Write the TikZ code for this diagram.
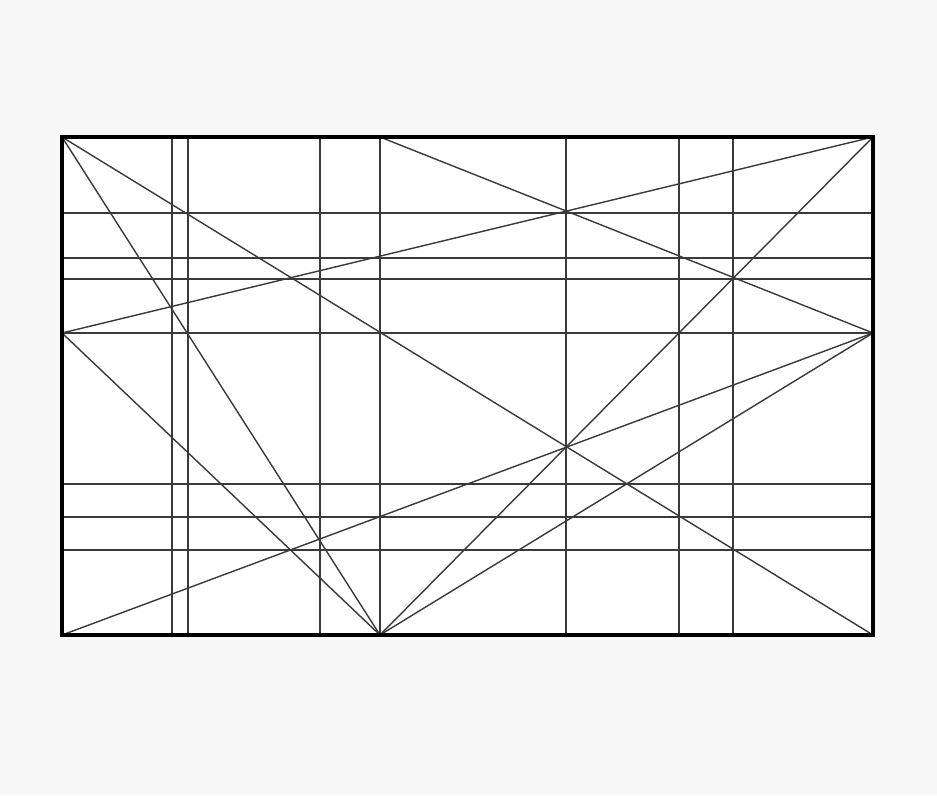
\documentclass[tikz,border=0pt]{standalone}
\definecolor{paper}{HTML}{F7F7F7}
\definecolor{guide}{HTML}{3A3A3A}
\begin{document}
\begin{tikzpicture}[x=0.02cm,y=-0.02cm]
    % Page and frame:
    \fill[paper] (0,0) rectangle (937,795);
    \useasboundingbox (0,0) rectangle (937,795);
    \fill[white] (62,137) rectangle (873,635);

    % Points on the frame the diagonals run between:
    \coordinate (tl) at (62,137);
    \coordinate (tr) at (873,137);
    \coordinate (bl) at (62,635);
    \coordinate (br) at (873,635);
    \coordinate (lm) at (62,333);
    \coordinate (rm) at (873,333);
    \coordinate (tm) at (380,137);
    \coordinate (bm) at (380,635);

    \begin{scope}[line width=0.8pt,draw=guide]
    % Vertical guides:
    \foreach \x in {172,188,320,380,566,679,733}
        \draw (\x,137) -- (\x,635);
    % Horizontal guides:
    \foreach \y in {213,258,279,333,484,517,550}
        \draw (62,\y) -- (873,\y);

    % Diagonals:
    \draw (tl) -- (br);
    \draw (tl) -- (bm);
    \draw (lm) -- (tr);
    \draw (lm) -- (bm);
    \draw (bl) -- (rm);
    \draw (tm) -- (rm);
    \draw (bm) -- (tr);
    \draw (bm) -- (rm);
    \end{scope}

    \draw[line width=2.3pt] (tl) rectangle (br);
\end{tikzpicture}
\end{document}
